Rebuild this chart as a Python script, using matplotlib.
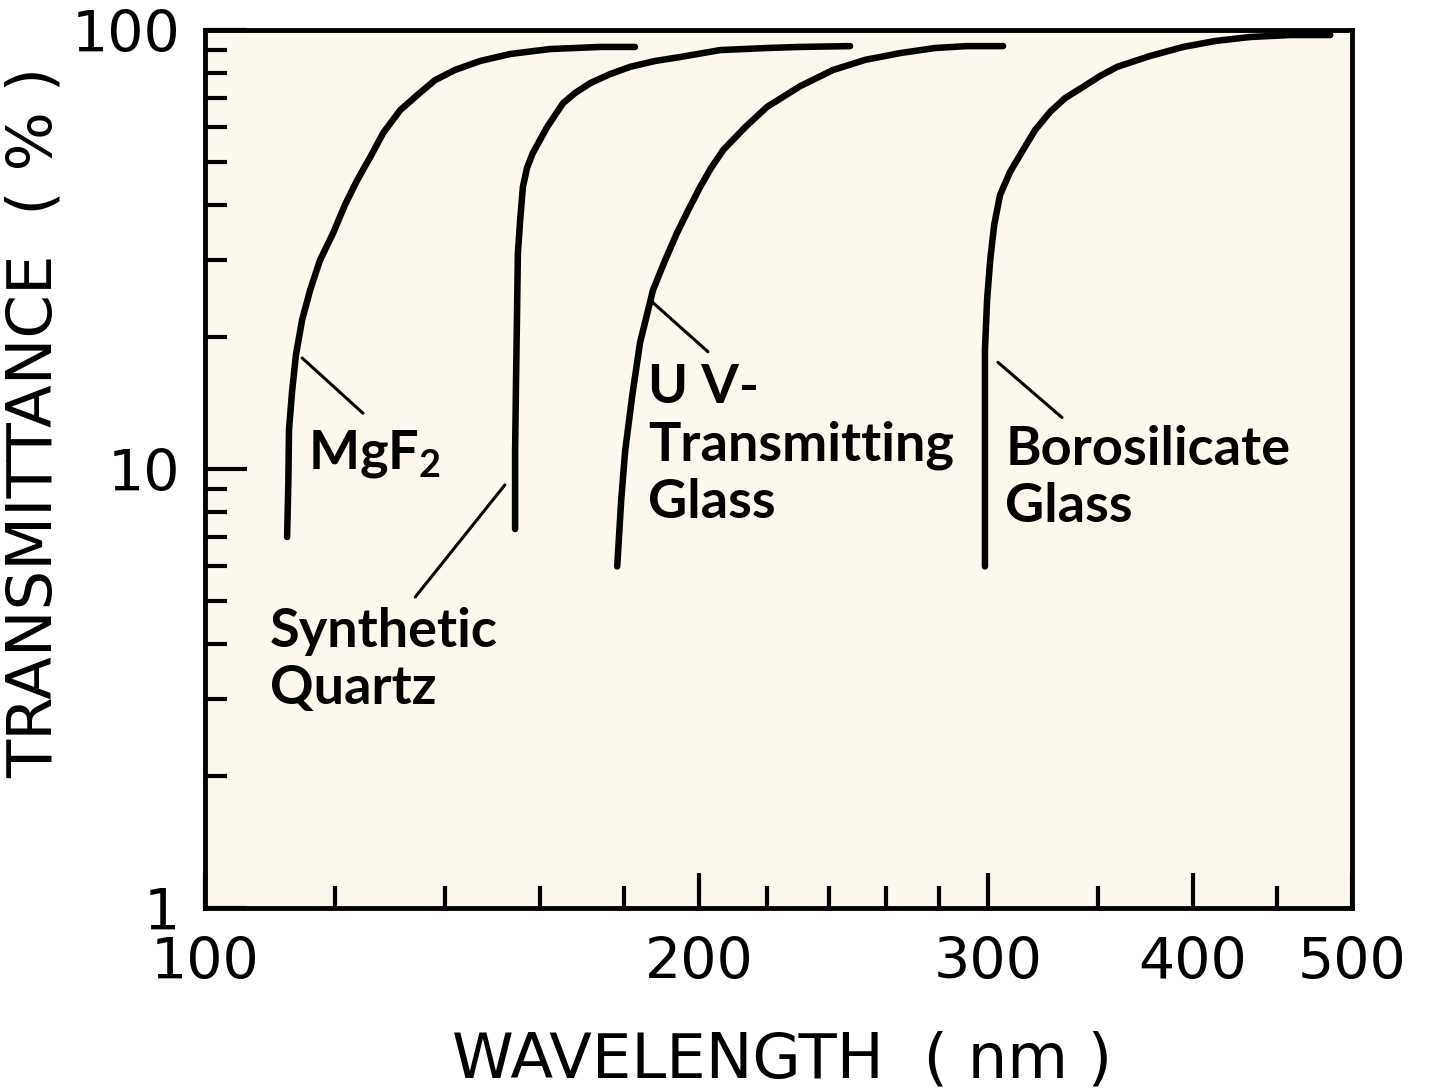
import matplotlib.pyplot as plt
from matplotlib.ticker import FixedLocator, FixedFormatter, NullFormatter

plt.rcParams["mathtext.fontset"] = "custom"
plt.rcParams["mathtext.bf"] = "Lato:bold"
plt.rcParams["mathtext.rm"] = "Lato"

# transmittance curves, wavelength in nm and transmittance in %
mgf2_nm = [112.2, 112.4, 112.5, 113.0, 113.6, 114.6, 115.9, 117.5, 119.7, 121.7, 123.8, 126.1,
           128.4, 131.5, 134.7, 138.1, 142.0, 147.1, 153.5, 162.3, 174.1, 182.8]
mgf2_t = [7.0, 9.4, 12.3, 15.1, 18.2, 21.9, 25.6, 29.9, 34.5, 40.0, 45.5, 51.4,
          58.3, 65.7, 71.1, 76.9, 81.1, 85.0, 88.2, 90.5, 91.5, 91.5]

quartz_nm = [154.5, 154.5, 154.7, 154.9, 155.1, 155.6, 156.2, 157.1, 158.4, 160.0, 161.6, 163.4,
             165.3, 168.1, 171.7, 176.6, 181.5, 188.0, 194.8, 206.0, 220.0, 230.5, 247.2]
quartz_t = [7.3, 11.0, 15.9, 21.9, 31.0, 36.9, 43.9, 48.5, 52.5, 56.2, 60.1, 64.0,
            68.2, 71.9, 75.7, 79.4, 82.4, 85.0, 86.8, 90.0, 91.0, 91.5, 91.9]

uvglass_nm = [178.3, 179.3, 180.3, 182.1, 184.1, 187.5, 190.7, 193.9, 197.0, 200.3, 203.4, 206.9,
              213.4, 220.0, 230.5, 241.4, 252.5, 265.2, 278.6, 291.3, 306.4]
uvglass_t = [6.0, 8.5, 11.0, 14.7, 19.4, 25.6, 29.9, 34.5, 38.9, 43.9, 48.5, 53.3,
             60.1, 66.8, 74.5, 81.1, 85.5, 88.6, 91.0, 91.9, 91.9]

boro_nm = [298.7, 298.7, 298.7, 299.6, 300.9, 302.6, 305.1, 309.4, 315.1, 320.5, 327.3, 334.3,
           342.8, 351.1, 359.5, 376.7, 394.5, 412.6, 433.4, 458.4, 484.9]
boro_t = [6.0, 11.0, 18.7, 24.3, 29.9, 36.0, 42.1, 47.5, 53.3, 59.2, 65.1, 70.0,
          74.2, 78.6, 82.4, 87.3, 91.5, 94.4, 96.4, 97.4, 97.4]

# curve names, where each name sits and its leader line (curve end, text end)
names = [r"$\mathbf{MgF_2}$", "Synthetic\nQuartz", "U V-\nTransmitting\nGlass", "Borosilicate\nGlass"]
name_at = [(115.5, 12.4), (109.5, 4.85), (186.2, 17.4), (307.3, 12.6)]
leader_from = [(114.6, 17.9), (152.3, 9.2), (187.3, 24.0), (304.2, 17.5)]
leader_to = [(124.8, 13.4), (134.3, 5.11), (202.5, 18.5), (332.8, 13.1)]

x_major = [100, 200, 300, 400, 500]
x_labels = ["100", "200", "300", "400", "500"]
x_minor = [120, 140, 160, 180, 220, 240, 260, 280, 350, 450]
y_major = [1, 10, 100]
y_labels = ["1", "10", "100"]
y_minor = [2, 3, 4, 5, 6, 7, 8, 9, 20, 30, 40, 50, 60, 70, 80, 90]

fig = plt.figure(figsize=(14.29, 10.91), dpi=100)
ax = fig.add_axes([0.1435, 0.1677, 0.8027, 0.8048])
ax.set_facecolor("#fcf8ed")
ax.set_xscale("log")
ax.set_yscale("log")
ax.set_xlim(100, 500)
ax.set_ylim(1, 100)

for xs, ys in [(mgf2_nm, mgf2_t), (quartz_nm, quartz_t), (uvglass_nm, uvglass_t), (boro_nm, boro_t)]:
    ax.plot(xs, ys, color="black", lw=4.7, solid_capstyle="round", solid_joinstyle="round")

label_font = ["Lato", "DejaVu Sans"]
for name, pos, a, b in zip(names, name_at, leader_from, leader_to):
    ax.text(pos[0], pos[1], name, ha="left", va="top", fontsize=39, fontweight="bold",
            family=label_font, linespacing=1.2)
    ax.annotate("", xy=a, xytext=b, arrowprops=dict(arrowstyle="-", lw=2.2, color="black",
                                                    shrinkA=0, shrinkB=0))

ax.xaxis.set_major_locator(FixedLocator(x_major))
ax.xaxis.set_major_formatter(FixedFormatter(x_labels))
ax.xaxis.set_minor_locator(FixedLocator(x_minor))
ax.xaxis.set_minor_formatter(NullFormatter())
ax.yaxis.set_major_locator(FixedLocator(y_major))
ax.yaxis.set_major_formatter(FixedFormatter(y_labels))
ax.yaxis.set_minor_locator(FixedLocator(y_minor))
ax.yaxis.set_minor_formatter(NullFormatter())

ax.tick_params(which="both", direction="in", top=False, right=False, width=3, color="black")
ax.tick_params(axis="x", which="major", length=25, pad=20)
ax.tick_params(axis="y", which="major", length=30, pad=18)
ax.tick_params(which="minor", length=16)
for lab in ax.get_xticklabels() + ax.get_yticklabels():
    lab.set_family("DejaVu Sans")
    lab.set_fontsize(41)

for s in ax.spines.values():
    s.set_linewidth(3.5)

fig.text(0.024, 0.613, "TRANSMITTANCE  ( % )", rotation=90, ha="center", va="center",
         fontsize=45, family="DejaVu Sans")
fig.text(0.547, 0.028, "WAVELENGTH  ( nm )", ha="center", va="center", fontsize=45,
         family="DejaVu Sans")

fig.savefig("out.png", dpi=100, facecolor="white")
